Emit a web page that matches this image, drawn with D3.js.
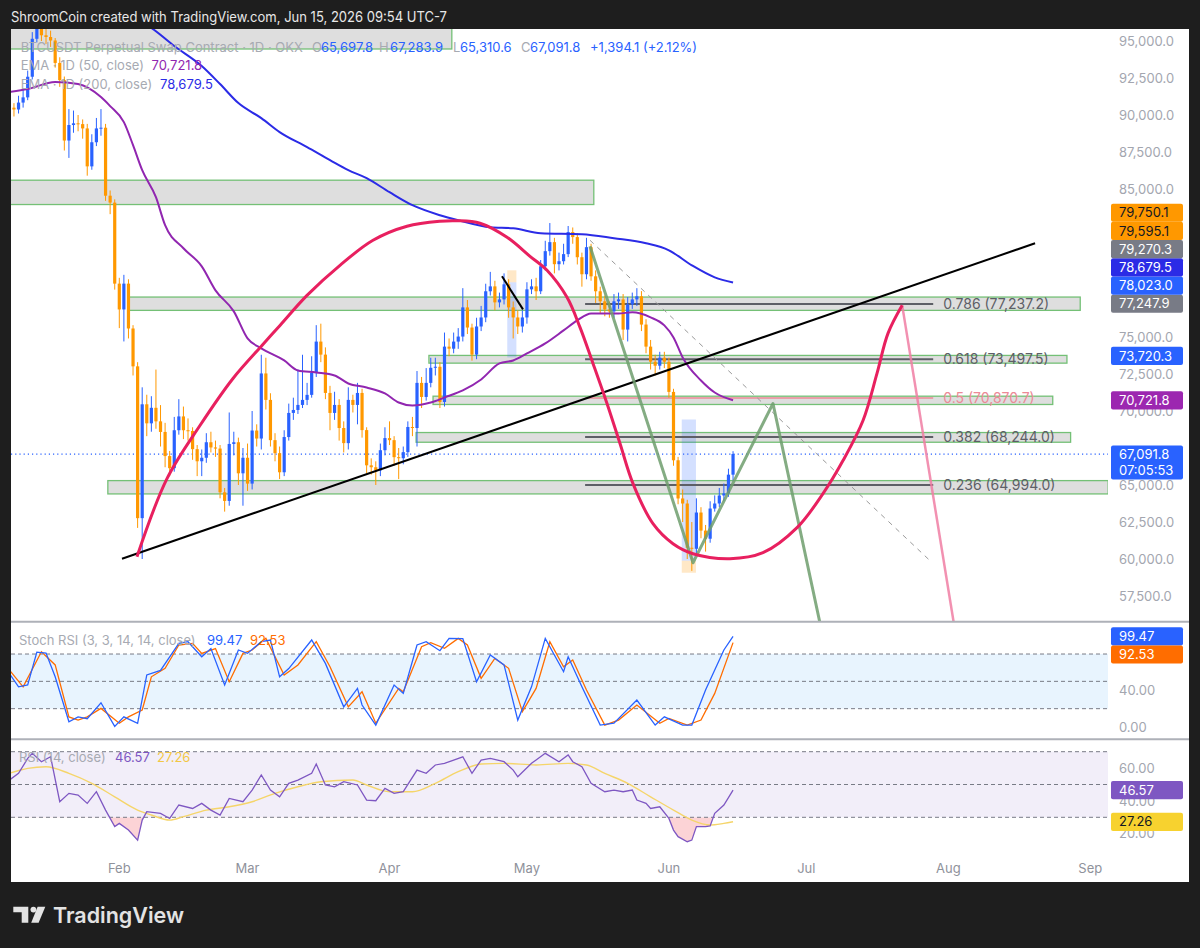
<!DOCTYPE html>
<html><head><meta charset="utf-8">
<script src="https://cdn.jsdelivr.net/npm/d3@7"></script>
<style>html,body{margin:0;padding:0;background:#1e1e1e}svg{display:block}</style>
</head><body>
<svg id="chart" width="1200" height="948"></svg>
<script>
// ---------------- DATA ----------------
const headerText = "ShroomCoin created with TradingView.com, Jun 15, 2026 09:54 UTC-7";
const symbolTitle = "BTCUSDT Perpetual Swap Contract · 1D · OKX";
const firstDate = "2026-01-08";   // date of candle index 0 (daily candles)
const firstOpen = 90954;
const closes = [90494,90372,90839,91191,92585,95149,95852,95386,95270,95034,
93518,92355,88275,89323,89438,89384,89093,86529,88159,89093,
89141,84547,84080,78606,76861,78606,75575,73017,62760,70453,
69167,70216,69300,68585,66955,66137,68700,69634,68700,68650,
67422,66603,66840,67889,67537,67462,64505,63924,67774,67889,
65790,66840,65094,68680,68139,72537,70750,68030,67150,65860,
68240,69870,70070,70410,70750,71090,72580,74690,73810,71220,
69870,70410,68850,67830,70750,70410,71220,68710,66330,66200,
65990,67350,68170,68030,66880,66810,67220,68920,68850,71900,
70950,71900,72920,72990,70610,74350,74210,74690,75030,77000,
75640,73810,75710,76320,78090,78420,77340,77540,78560,77000,
76320,75710,76320,78220,78420,78090,79780,80800,81410,79920,
80120,80600,82090,81750,80390,79240,81070,79100,78090,77410,
76860,76730,77410,77540,75500,77200,77540,77750,75840,74350,
73330,73060,73600,73330,71290,66670,64090,63750,60760,60690,
63140,61920,61370,63410,63750,64290,64430,65697.8,67091.8];
const highs = [91400,90800,91300,91700,93000,95600,96500,96300,95900,95700,
95200,93900,92600,90400,90300,90000,89700,89400,88700,89800,
90400,89400,84900,84300,79000,79200,78900,75800,73300,71600,
71100,71000,72800,70400,69200,67300,69600,70800,70300,69500,
68900,67700,67400,68500,68600,68000,67700,64800,69900,68600,
68200,67500,67800,70000,69100,73800,73600,71200,68500,67600,
68700,70500,70900,72800,73800,71900,73700,75800,75900,74300,
71700,71300,70800,69300,71600,71100,71900,71500,68900,66800,
66600,67800,68900,69300,68300,67500,67600,69300,69600,72700,
72300,72900,73600,73600,73300,75300,74900,75300,75600,78300,
77500,75900,76300,77100,78600,79400,78800,78000,79300,78900,
77400,76800,76800,78700,78900,79000,80200,81500,82700,81700,
80700,81300,82500,82400,82000,80700,81700,81300,79500,78400,
77800,77400,77900,78000,77900,77700,78000,78300,78100,76200,
74800,73800,74000,74000,73600,71500,66900,64700,64000,62500,
64100,63500,62300,63900,64300,64800,65100,66100,67283.9];
const lows = [89600,89900,90100,90500,91000,92400,94900,95000,94800,94600,
93200,91900,87600,87100,88800,88900,88400,85900,86300,87900,
88600,84200,83300,78200,75600,74700,74900,72400,62100,60000,
68300,68600,68800,67600,66200,65600,65900,68400,68100,68000,
66700,65600,65600,66500,67200,66900,64100,63200,63600,67000,
65000,63600,64600,64700,67600,67400,70100,67600,66600,65400,
65600,68000,69400,69800,70200,70400,70900,72300,73300,70800,
68700,69400,68000,67200,67400,69900,69100,68200,65800,65700,
65000,65600,67000,67700,66300,65400,66400,66900,68300,67600,
70200,70700,71600,72400,70200,70300,73700,73900,74200,74700,
75200,73400,73500,75400,76000,77800,76800,77000,77200,76300,
74900,75200,75300,75900,77900,77500,77900,79500,80500,79300,
79500,79900,80400,81300,79900,78400,78900,78800,77300,76600,
76400,76300,76300,76900,74800,74700,76900,77100,75400,73900,
72800,72400,72800,72900,70900,66300,63700,62500,60000,59200,
60300,61400,60500,61100,63200,63500,63900,64200,65310.6];

// indicator readings: [day index, value]
const ema50 = [[0,91549],[4,91752],[10,92226],[15,92091],[20,91211],[22,90602],[25,89520],[27,87963],[29,86272],[32,84445],[34,82551],[38,80994],[42,79777],[45,78153],[49,76732],[52,74905],[55,74228],[60,73416],[63,72740],[67,72605],[71,72402],[74,71860],[78,71590],[82,71184],[85,70575],[88,70372],[92,70575],[95,70913],[99,71387],[103,72131],[107,73213],[110,73416],[113,73890],[117,74567],[121,75446],[124,76123],[127,76596],[133,76596],[136,76664],[140,76326],[143,75785],[145,74973],[147,73620],[151,72064],[154,71252],[158,70721.8]];
const ema200 = [[28,96421],[31,95880],[36,94662],[42,93309],[46,92091],[50,90805],[55,89790],[59,88843],[65,87828],[70,86949],[74,86272],[78,85731],[83,84783],[88,83904],[94,83227],[98,82889],[105,82415],[110,82348],[116,82009],[125,81942],[132,81671],[139,81333],[144,80859],[149,79844],[154,79032],[158,78679.5]];
const stochK = [[0,58.7],[2,44],[4,46],[6,82],[8,81],[10,55],[13,5.7],[15,11],[17,9],[20,26.5],[23,0.5],[25,11],[28,4],[30,57],[33,62],[37,91.7],[39,93.5],[42,77],[44,86],[47,46],[50,84.4],[52,80.7],[55,93.5],[57,95.4],[59,55],[61,64],[66,95.4],[69,69.7],[73,22],[76,42.3],[77,24],[80,2],[84,46],[86,36.8],[89,89.9],[91,93.5],[94,83.6],[96,97.2],[99,97],[102,49.6],[105,78.9],[108,68],[111,7.5],[114,44],[117,97.2],[121,60.6],[122,77],[125,44],[129,2],[132,4],[137,29.5],[141,2],[143,11],[147,2],[149,2],[152,40.5],[156,84.4],[158,99.47]];
const stochD = [[0,62.4],[3,44],[7,82.5],[10,68],[13,11],[15,7.5],[17,11],[20,20.3],[24,4],[26,11],[29,18.5],[31,55],[34,64.3],[37,89.9],[40,91.7],[42,80.7],[45,86],[48,49.6],[51,80.7],[53,84.4],[56,97.2],[60,57],[63,68],[67,93.5],[70,66],[74,22],[77,38.6],[80,4],[85,42.3],[86,38.6],[90,88],[92,92.4],[95,86.2],[98,97.2],[100,89.9],[103,53.3],[106,75.2],[109,64.3],[112,16.7],[115,42.3],[118,93.5],[121,66],[123,73.4],[126,40.5],[130,2],[133,7.5],[137,24],[142,4],[144,9.4],[148,2],[151,7.5],[154,36.8],[158,92.53]];
const rsi = [[0,52.7],[2,56.8],[4,65.9],[5,69],[7,63.9],[9,66.9],[11,39.5],[13,44.6],[15,43.6],[17,38.5],[19,45.6],[21,34.4],[23,24.3],[24,26.3],[26,22.2],[28,16.1],[29,28.3],[30,33.4],[33,32.4],[35,29.3],[37,37.5],[40,35.4],[42,38.5],[44,34.4],[46,31.4],[48,41.5],[51,39.5],[53,46.6],[55,55.8],[57,46.6],[59,42.5],[61,50.7],[63,52.7],[66,56.8],[67,62.5],[69,49.7],[71,48.6],[73,51.7],[76,49.7],[78,40.5],[80,40.1],[82,47.6],[84,44.6],[86,45.6],[89,58.8],[91,56.8],[93,61.9],[95,62.9],[97,64.9],[99,66.9],[101,56.8],[103,64.9],[105,65.9],[108,63.9],[110,58.8],[111,54.7],[114,62.9],[115,64.9],[117,69],[120,63.9],[122,68],[123,63.9],[125,60.8],[127,50.7],[130,45.6],[132,46.6],[134,45.6],[136,46.6],[137,40.5],[139,38.5],[140,35.4],[142,36.4],[144,29.3],[145,22.2],[146,18.2],[148,15.1],[149,16.1],[150,24.3],[152,24.3],[153,24.7],[154,32.4],[156,37.5],[158,46.57]];
const rsiMA = [[0,56.8],[4,59.8],[8,60.8],[13,56.8],[18,50.7],[23,42.5],[28,34.4],[31,31.4],[35,28.3],[38,30.4],[43,34.4],[48,36.4],[53,39.5],[58,44.6],[63,48.6],[68,51.7],[75,52.7],[78,49.7],[83,45.6],[88,45.6],[93,50.7],[98,57.8],[103,62.5],[108,62.9],[115,61.9],[122,62.9],[126,61.9],[130,56.8],[135,50.7],[140,42.5],[145,34.4],[149,28.3],[153,25.3],[156,26.3],[158,27.26]];

// drawings anchored in (day index, price)
const zones = [[-3,96.6,96300,94460],[-3,127.6,85595,83951],[25.9,233.8,77699,76799],[91.6,230.9,73755,73234],[92.5,227.8,71001,70440],[88.8,231.7,68545,67889],[21.5,239.9,65297,64397]];
const fibRatios = [0.236,0.382,0.5,0.618,0.786];
const fibPrices = [64994.0,68244.0,70870.7,73497.5,77237.2];
const fibSpan = [125.7,201.7];
const trendLine = [[24.59,60020],[223.94,81333]];
const shortLine = [[107.55,79100],[112.14,76867]];
const cycleCurve = [[27.86,60155],[34.41,65432],[41.61,69019],[48.82,72199],[55.15,74431],[59.08,75785],[64.98,77814],[72.18,79844],[79.39,81535],[86.81,82483],[94.0,82821],[97.73,82855],[102.75,82686],[108.65,81739],[113.67,80453],[117.38,79506],[121.75,77679],[124.59,75649],[127.42,73213],[130.48,70507],[133.32,67801],[136.16,65094],[140.52,62388],[144.89,61035],[149.26,60358],[157.33,60020],[164.54,60425],[171.97,62117],[177.64,64417],[182.01,66650],[186.38,69357],[189.43,72537],[191.83,75243],[194.93,77138]];
const dropLine = [[194.93,77138],[207.5,53186]];
const greenPath = [[126.77,81130],[149.26,59749],[166.72,70507],[178.7,53186]];
const dashedLine = [[126.77,81536],[200.79,59951]];
// price-range tool rectangles: [from day, to day, high price, low price, kind]
const rangeRects = [[108.7,110.7,79506,78694,'up'],[108.7,110.7,78694,73620,'down'],[146.8,149.9,69425,59885,'down'],[146.8,149.9,59885,59072,'up']];
const priceTicks = d3.range(57500, 95001, 2500);
const axisLabels = [79750.1,79595.1,79270.3,78679.5,78023.0,77247.9,73720.3,70721.8];
const lastPrice = 67091.8, countdown = "07:05:53";
const legendOHLC = [65697.8,67283.9,65310.6,67091.8];
const changeAbs = 1394.1, changePct = 2.12;
const stochTicks = [0,40,80], rsiTicks = [20,40,60];

// ---------------- STYLE / LAYOUT ----------------
const FONT = 'Inter, "Noto Sans", Roboto, sans-serif';
const UP = '#2962ff', DN = '#ff9800';
const labelStyles = {79750.1:['#ff9800','#131722'],79595.1:['#ff9800','#131722'],79270.3:['#787b86','#fff'],78679.5:['#2b2be6','#fff'],78023.0:['#2962ff','#fff'],77247.9:['#787b86','#fff'],73720.3:['#2962ff','#fff'],70721.8:['#9c27b0','#fff']};
const PL = 11, PR = 1108;
const svg = d3.select('#chart');
const defs = svg.append('defs');
svg.append('rect').attr('width',1200).attr('height',948).attr('fill','#1e1e1e');
svg.append('text').attr('x',11).attr('y',21.7).attr('fill','#e8e8e8').attr('font-size',14).attr('font-family',FONT)
  .attr('textLength',436).attr('lengthAdjust','spacingAndGlyphs').text(headerText);
svg.append('rect').attr('x',11).attr('y',29).attr('width',1178).attr('height',853).attr('fill','#fff');

const t0 = Date.parse(firstDate+'T00:00:00Z'), DAY = 864e5;
const x = d3.scaleUtc().domain([Date.UTC(2026,1,1), Date.UTC(2026,8,1)]).range([119.3,1090.3]);
const xi = i => x(new Date(t0 + i*DAY));
const y = d3.scaleLinear().domain([57500,95000]).range([596,41]);
const ys = d3.scaleLinear().domain([0,100]).range([726.9,635.8]);
const yr = d3.scaleLinear().domain([30,70]).range([817.3,751.7]);
const f1 = d3.format(",.1f"), f2 = d3.format(".2f");

function clip(id, y0, y1){ defs.append('clipPath').attr('id',id).append('rect').attr('x',PL).attr('y',y0).attr('width',PR-PL).attr('height',y1-y0); return `url(#${id})`; }
const gMain = svg.append('g').attr('clip-path', clip('cm',29,621.7));
const gSt = svg.append('g').attr('clip-path', clip('cs',622.5,739));
const gRs = svg.append('g').attr('clip-path', clip('cr',740,856));

// zones
gMain.selectAll('rect.zone').data(zones).join('rect').attr('class','zone')
  .attr('x',d=>xi(d[0])).attr('width',d=>xi(d[1])-xi(d[0]))
  .attr('y',d=>y(d[2])).attr('height',d=>y(d[3])-y(d[2]))
  .attr('fill','#dedede').attr('stroke','#74c076').attr('stroke-width',1.3);
// range highlight boxes
gMain.selectAll('rect.rng').data(rangeRects).join('rect').attr('class','rng')
  .attr('x',d=>xi(d[0])).attr('width',d=>xi(d[1])-xi(d[0]))
  .attr('y',d=>y(d[2])).attr('height',d=>y(d[3])-y(d[2]))
  .attr('fill',d=>d[4]==='up'?'rgba(255,152,0,0.22)':'rgba(41,98,255,0.2)');
// fib lines
fibPrices.forEach((p,k)=>{
  const pink = fibRatios[k]===0.5;
  gMain.append('line').attr('x1',xi(fibSpan[0])).attr('x2',xi(fibSpan[1])).attr('y1',y(p)).attr('y2',y(p))
    .attr('stroke',pink?'#ec8a96':'#5d5f66').attr('stroke-width',pink?1.5:2);
});
// current price line
gMain.append('line').attr('x1',PL).attr('x2',PR).attr('y1',y(lastPrice)).attr('y2',y(lastPrice))
  .attr('stroke',UP).attr('stroke-dasharray','1.2,3').attr('stroke-width',1.2);

// candles
const candles = closes.map((c,i)=>({i, o: i?closes[i-1]:firstOpen, c, h:highs[i], l:lows[i]}));
const cg = gMain.append('g').selectAll('g').data(candles).join('g');
cg.append('line').attr('x1',d=>xi(d.i)).attr('x2',d=>xi(d.i)).attr('y1',d=>y(d.h)).attr('y2',d=>y(d.l))
  .attr('stroke',d=>d.c>=d.o?UP:DN).attr('stroke-width',1);
cg.append('rect').attr('x',d=>xi(d.i)-1.6).attr('width',3.2)
  .attr('y',d=>y(Math.max(d.o,d.c))).attr('height',d=>Math.max(1,y(Math.min(d.o,d.c))-y(Math.max(d.o,d.c))))
  .attr('fill',d=>d.c>=d.o?UP:DN);

// EMAs
const lineP = d3.line().x(d=>xi(d[0])).y(d=>y(d[1])).curve(d3.curveMonotoneX);
gMain.append('path').attr('d',lineP(ema50)).attr('fill','none').attr('stroke','#9126b0').attr('stroke-width',2);
gMain.append('path').attr('d',lineP(ema200)).attr('fill','none').attr('stroke','#2b2be6').attr('stroke-width',2);

// drawings
const lin = d3.line().x(d=>xi(d[0])).y(d=>y(d[1]));
gMain.append('path').attr('d',lin(dashedLine)).attr('fill','none').attr('stroke','#9a9a9a').attr('stroke-dasharray','5,5').attr('stroke-width',1);
gMain.append('path').attr('d',lin(trendLine)).attr('fill','none').attr('stroke','#000').attr('stroke-width',2);
gMain.append('path').attr('d',lin(shortLine)).attr('fill','none').attr('stroke','#000').attr('stroke-width',2);
gMain.append('path').attr('d',lin(greenPath)).attr('fill','none').attr('stroke','#6f9d6d').attr('stroke-opacity',0.85).attr('stroke-width',3).attr('stroke-linejoin','round');
gMain.append('path').attr('d',lin(dropLine)).attr('fill','none').attr('stroke','#f07ea3').attr('stroke-opacity',0.85).attr('stroke-width',2.5);
gMain.append('path').attr('d',d3.line().x(d=>xi(d[0])).y(d=>y(d[1])).curve(d3.curveCatmullRom.alpha(0.5))(cycleCurve))
  .attr('fill','none').attr('stroke','#e8205f').attr('stroke-width',3);
// fib labels
fibPrices.forEach((p,k)=>{
  const pink = fibRatios[k]===0.5;
  gMain.append('text').attr('x',xi(fibSpan[1])+10).attr('y',y(p)+5).attr('font-size',14).attr('font-family',FONT)
    .attr('fill',pink?'#ec8a96':'#5d5f66').text(`${fibRatios[k]} (${f1(p)})`);
});

// main legend
const LG = '#a7aab2';
function txt(xp, yp, s, col, size){ return svg.append('text').attr('x',xp).attr('y',yp).attr('fill',col).attr('font-size',size||13).attr('font-family',FONT).text(s); }
txt(20.7,51.5,symbolTitle,LG);
const lx = [[312,'O'],[379,'H'],[453,'L'],[521,'C']];
const vx = [321,390,460,530];
lx.forEach((d,k)=>{ txt(d[0],51.5,d[1],LG); txt(vx[k],51.5,f1(legendOHLC[k]),UP); });
txt(590,51.5,`+${f1(changeAbs)} (+${f2(changePct)}%)`,UP);
txt(20.7,70,"EMA · 1D (50, close)",LG); txt(151.5,70,f1(ema50[ema50.length-1][1]),'#9126b0');
txt(20.7,88.5,"EMA · 1D (200, close)",LG); txt(160,88.5,f1(ema200[ema200.length-1][1]),'#2b2be6');

// ---------- axis label boxes (computed first, ticks hidden where covered) ----------
const LH = 18.2;
const boxes = [];
function addBox(yc, bg, fg, lines, h){ boxes.push({yc, bg, fg, lines, h, top: yc-9.1, bot: yc-9.1+h}); }
const lab = axisLabels.map(v=>({v, yc:y(v)})).sort((a,b)=>b.yc-a.yc);
let prevTop = Infinity;
lab.forEach(d=>{ if(d.yc + LH/2 > prevTop) d.yc = prevTop - LH/2; prevTop = d.yc - LH/2; });
lab.forEach(d=>addBox(d.yc, labelStyles[d.v][0], labelStyles[d.v][1], [f1(d.v)], LH));
addBox(y(lastPrice)+0.6, UP, '#fff', [f1(lastPrice), countdown], 34);
{
  const kv = stochK[stochK.length-1][1], dv = stochD[stochD.length-1][1];
  const y1 = ys(kv), y2 = Math.max(ys(dv), y1 + LH);
  addBox(y1, UP, '#fff', [f2(kv)], LH);
  addBox(y2, '#ff6d00', '#fff', [f2(dv)], LH);
  const rv = rsi[rsi.length-1][1], mv = rsiMA[rsiMA.length-1][1];
  addBox(yr(rv), '#7e57c2', '#fff', [f2(rv)], LH);
  addBox(yr(mv), '#f7d22f', '#131722', [f2(mv)], LH);
}
function covered(yc){ // tick text spans yc-5..yc+4.5
  const a = yc-5, b = yc+4.5;
  return boxes.some(bx => Math.max(0, Math.min(b,bx.bot)-Math.max(a,bx.top)) > 5);
}
function tick(yc, s){ if(!covered(yc)) txt(1119, yc+4.6, s, '#a3a6af'); }
priceTicks.forEach(t=>tick(y(t), f1(t)));
stochTicks.forEach(t=>tick(ys(t), f2(t)));
rsiTicks.forEach(t=>tick(yr(t), f2(t)));

// ---------- Stoch RSI pane ----------
gSt.append('rect').attr('x',PL).attr('width',PR-PL).attr('y',ys(80)).attr('height',ys(20)-ys(80)).attr('fill','rgba(33,150,243,0.1)');
[80,50,20].forEach(v=>gSt.append('line').attr('x1',PL).attr('x2',PR).attr('y1',ys(v)).attr('y2',ys(v)).attr('stroke','#787b86').attr('stroke-dasharray','4,3').attr('stroke-width',1));
const lineS = d3.line().x(d=>xi(d[0])).y(d=>ys(d[1]));
gSt.append('path').attr('d',lineS(stochD)).attr('fill','none').attr('stroke','#ff6d00').attr('stroke-width',1.3);
gSt.append('path').attr('d',lineS(stochK)).attr('fill','none').attr('stroke',UP).attr('stroke-width',1.3);
txt(19,644.5,"Stoch RSI (3, 3, 14, 14, close)",LG);
txt(207,644.5,f2(stochK[stochK.length-1][1]),UP);
txt(250,644.5,f2(stochD[stochD.length-1][1]),'#ff6d00');

// ---------- RSI pane ----------
gRs.append('rect').attr('x',PL).attr('width',PR-PL).attr('y',yr(70)).attr('height',yr(30)-yr(70)).attr('fill','rgba(126,87,194,0.1)');
defs.append('clipPath').attr('id','below30').append('rect').attr('x',PL).attr('y',yr(30)).attr('width',PR-PL).attr('height',856-yr(30));
gRs.append('path').attr('clip-path','url(#below30)')
  .attr('d',d3.area().x(d=>xi(d[0])).y0(yr(30)).y1(d=>yr(d[1]))(rsi))
  .attr('fill','rgba(242,54,69,0.22)');
[70,50,30].forEach(v=>gRs.append('line').attr('x1',PL).attr('x2',PR).attr('y1',yr(v)).attr('y2',yr(v)).attr('stroke','#787b86').attr('stroke-dasharray','4,3').attr('stroke-width',1));
gRs.append('path').attr('d',d3.line().x(d=>xi(d[0])).y(d=>yr(d[1])).curve(d3.curveMonotoneX)(rsiMA)).attr('fill','none').attr('stroke','#f5d56a').attr('stroke-width',1.4);
gRs.append('path').attr('d',d3.line().x(d=>xi(d[0])).y(d=>yr(d[1]))(rsi)).attr('fill','none').attr('stroke','#7e57c2').attr('stroke-width',1.3);
txt(19,761.5,"RSI (14, close)",LG);
txt(115,761.5,f2(rsi[rsi.length-1][1]),'#7e57c2');
txt(157,761.5,f2(rsiMA[rsiMA.length-1][1]),'#f2c744');

// draw label boxes on top
boxes.forEach(bx=>{
  svg.append('rect').attr('x',1111).attr('y',bx.top).attr('width',72).attr('height',bx.h).attr('rx',2).attr('fill',bx.bg);
  bx.lines.forEach((s,k)=>txt(1119,bx.yc+4.6+k*16,s,bx.fg));
});

// separators
[621.7,739.3].forEach(v=>svg.append('line').attr('x1',11).attr('x2',1189).attr('y1',v).attr('y2',v).attr('stroke','#aeb1b8').attr('stroke-width',2));

// time axis
const months = d3.utcMonth.range(new Date(Date.UTC(2026,1,1)), new Date(Date.UTC(2026,8,2)));
months.forEach(m=>txt(x(m),872.5,d3.utcFormat('%b')(m),'#8f929b').attr('text-anchor','middle'));

// TradingView logo
const LC = '#e3e3e3';
svg.append('path').attr('d','M13.3,906.7H28.3V922.7H21.7V912.3H13.3Z').attr('fill',LC);
svg.append('circle').attr('cx',33.4).attr('cy',909.6).attr('r',2.9).attr('fill',LC);
svg.append('path').attr('d','M37.6,906.7H45.3L38.6,922.7H31.2Z').attr('fill',LC);
svg.append('text').attr('x',53).attr('y',923).attr('font-size',22).attr('font-weight',600).attr('font-family',FONT)
  .attr('fill',LC).attr('textLength',131).attr('lengthAdjust','spacingAndGlyphs').text('TradingView');
</script>
</body></html>
